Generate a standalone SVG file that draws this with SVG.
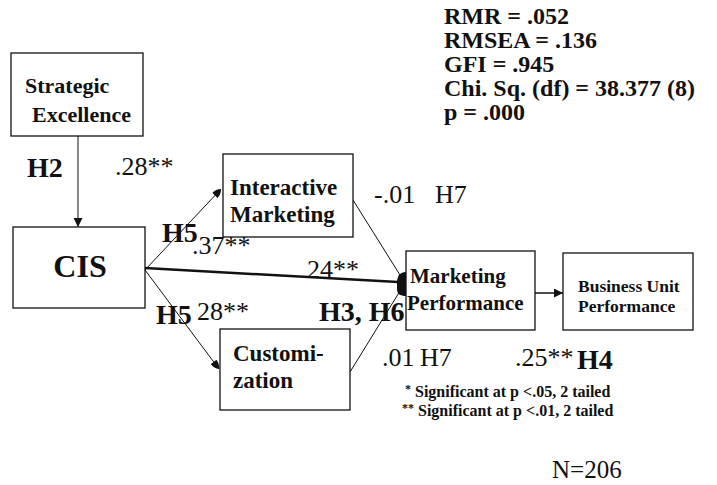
<svg xmlns="http://www.w3.org/2000/svg" width="717" height="485" viewBox="0 0 717 485">
  <defs>
    <marker id="tri" viewBox="0 0 10 10" refX="10" refY="5" markerWidth="9" markerHeight="9" markerUnits="userSpaceOnUse" orient="auto">
      <path d="M0,0 L10,5 L0,10 Z" fill="#111"/>
    </marker>
    <marker id="blob" viewBox="0 0 10 10" refX="10" refY="5" markerWidth="9" markerHeight="9" markerUnits="userSpaceOnUse" orient="auto">
      <path d="M0,1 Q6,1 10,5 Q6,9 0,9 Z" fill="#111"/>
    </marker>
  </defs>
  <style>
    .box { fill: #fff; stroke: #111; stroke-width: 1.3; }
    .conn { fill: none; stroke: #111; stroke-width: 1; }
    .node { font-family: "Liberation Serif", "Times New Roman", serif; font-weight: bold; fill: #111; }
    .coef { font-family: "Liberation Serif", "Times New Roman", serif; font-size: 26px; fill: #111; }
    .hyp { font-family: "Liberation Serif", "Times New Roman", serif; font-size: 28px; font-weight: bold; fill: #111; }
    .fit { font-family: "Liberation Serif", "Times New Roman", serif; font-size: 24px; font-weight: bold; fill: #111; }
    .note { font-family: "Liberation Serif", "Times New Roman", serif; font-size: 16px; font-weight: bold; fill: #111; }
  </style>

  <rect width="717" height="485" fill="#fff"/>

  <!-- connectors -->
  <g id="connectors">
    <line class="conn" x1="78" y1="136" x2="78" y2="227" marker-end="url(#tri)"/>
    <line class="conn" x1="145" y1="270" x2="221" y2="189" marker-end="url(#blob)"/>
    <line class="conn" x1="145" y1="270" x2="219" y2="369" marker-end="url(#blob)"/>
    <line class="conn" x1="145" y1="268" x2="398" y2="282" style="stroke-width:2.5"/>
    <line class="conn" x1="353" y1="200" x2="400" y2="275"/>
    <line class="conn" x1="350" y1="372" x2="400" y2="291"/>
    <path d="M406,272 C399,272 397,277 397,283 L397,289 C397,294 400,296 406,296 Z" fill="#111"/>
    <line class="conn" x1="535" y1="293" x2="563" y2="293" style="stroke-width:1.5" marker-end="url(#tri)"/>
  </g>

  <!-- Strategic Excellence -->
  <g id="strategic-excellence">
    <rect class="box" x="11" y="53" width="132" height="83"/>
    <text class="node" x="25" y="93" font-size="22">Strategic</text>
    <text class="node" x="32" y="122" font-size="22">Excellence</text>
  </g>

  <!-- CIS -->
  <g id="cis">
    <rect class="box" x="13" y="227" width="132" height="81"/>
    <text class="node" x="80" y="277" font-size="32" text-anchor="middle">CIS</text>
  </g>

  <!-- Interactive Marketing -->
  <g id="interactive-marketing">
    <rect class="box" x="223" y="154" width="130" height="83"/>
    <text class="node" x="230" y="195" font-size="23">Interactive</text>
    <text class="node" x="230" y="222" font-size="23">Marketing</text>
  </g>

  <!-- Customization -->
  <g id="customization">
    <rect class="box" x="220" y="329" width="130" height="81"/>
    <text class="node" x="233" y="361" font-size="23">Customi-</text>
    <text class="node" x="233" y="388" font-size="23">zation</text>
  </g>

  <!-- Marketing Performance -->
  <g id="marketing-performance">
    <rect class="box" x="406" y="251" width="129" height="79"/>
    <text class="node" x="410" y="283" font-size="21">Marketing</text>
    <text class="node" x="407" y="310" font-size="21">Performance</text>
  </g>

  <!-- Business Unit Performance -->
  <g id="business-unit-performance">
    <rect class="box" x="563" y="253" width="130" height="77"/>
    <text class="node" x="578" y="292" font-size="17.5">Business Unit</text>
    <text class="node" x="578" y="312" font-size="17.5">Performance</text>
  </g>

  <!-- path coefficients and hypotheses -->
  <g id="labels">
    <text class="hyp" x="27" y="177">H2</text>
    <text class="coef" x="115" y="175">.28**</text>
    <text class="hyp" x="162" y="242">H5</text>
    <text class="coef" x="192" y="254">.37**</text>
    <text class="coef" x="307" y="278">24**</text>
    <text class="hyp" x="156" y="324">H5</text>
    <text class="coef" x="197" y="320">28**</text>
    <text class="hyp" x="319" y="321">H3, H6</text>
    <text class="coef" x="374" y="203">-.01</text>
    <text class="coef" x="435" y="203">H7</text>
    <text class="coef" x="382" y="366">.01</text>
    <text class="coef" x="420" y="366">H7</text>
    <text class="coef" x="515" y="366">.25**</text>
    <text class="hyp" x="577" y="369">H4</text>
  </g>

  <!-- fit statistics -->
  <g id="fit-stats">
    <text class="fit" x="444" y="24">RMR = .052</text>
    <text class="fit" x="444" y="48">RMSEA = .136</text>
    <text class="fit" x="444" y="72">GFI = .945</text>
    <text class="fit" x="444" y="96">Chi. Sq. (df) = 38.377 (8)</text>
    <text class="fit" x="444" y="120">p = .000</text>
  </g>

  <!-- footnotes -->
  <g id="notes">
    <text class="note" x="405" y="397"><tspan font-size="12" dy="-4">*</tspan><tspan dy="4"> Significant at p &lt;.05, 2 tailed</tspan></text>
    <text class="note" x="402" y="416"><tspan font-size="12" dy="-4">**</tspan><tspan dy="4"> Significant at p &lt;.01, 2 tailed</tspan></text>
    <text class="coef" x="552" y="478" style="font-size:25px">N=206</text>
  </g>
</svg>
